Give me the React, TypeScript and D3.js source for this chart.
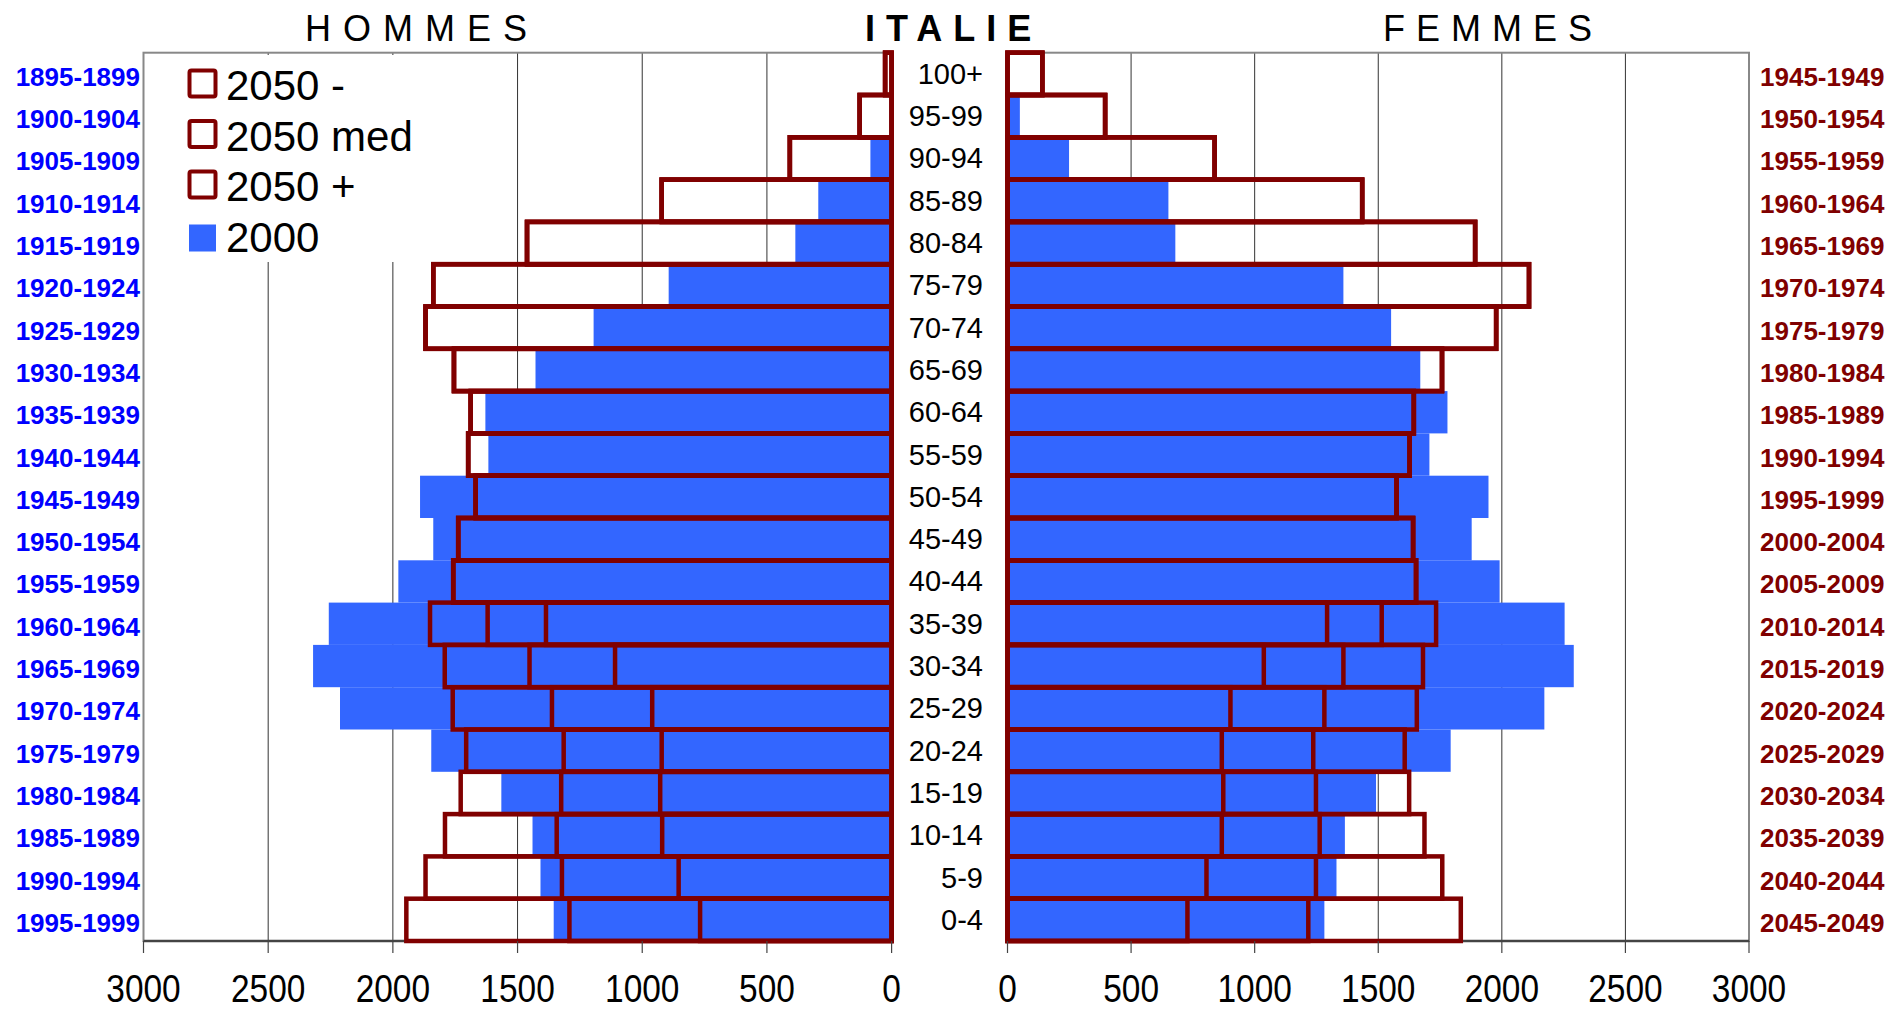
import React from "react";
import * as d3 from "d3";

const ages = ["100+","95-99","90-94","85-89","80-84","75-79","70-74","65-69","60-64","55-59","50-54","45-49","40-44","35-39","30-34","25-29","20-24","15-19","10-14","5-9","0-4"];
const birthMen = ["1895-1899","1900-1904","1905-1909","1910-1914","1915-1919","1920-1924","1925-1929","1930-1934","1935-1939","1940-1944","1945-1949","1950-1954","1955-1959","1960-1964","1965-1969","1970-1974","1975-1979","1980-1984","1985-1989","1990-1994","1995-1999"];
const birthWomen = ["1945-1949","1950-1954","1955-1959","1960-1964","1965-1969","1970-1974","1975-1979","1980-1984","1985-1989","1990-1994","1995-1999","2000-2004","2005-2009","2010-2014","2015-2019","2020-2024","2025-2029","2030-2034","2035-2039","2040-2044","2045-2049"];

const men2000 = [3, 8, 85, 294, 386, 894, 1195, 1428, 1629, 1617, 1891, 1838, 1978, 2257, 2320, 2212, 1846, 1565, 1440, 1408, 1355];
const men2050Low = [26, 128, 408, 922, 1462, 1838, 1869, 1755, 1688, 1698, 1668, 1738, 1758, 1386, 1109, 960, 922, 928, 920, 854, 768];
const men2050Med = [26, 128, 408, 922, 1462, 1838, 1869, 1755, 1688, 1698, 1668, 1738, 1758, 1620, 1452, 1362, 1315, 1325, 1343, 1322, 1292];
const men2050High = [26, 128, 408, 922, 1462, 1838, 1869, 1755, 1688, 1698, 1668, 1738, 1758, 1851, 1792, 1760, 1706, 1728, 1791, 1869, 1946];

const women2000 = [3, 50, 249, 651, 679, 1359, 1552, 1670, 1780, 1707, 1946, 1878, 1991, 2254, 2291, 2172, 1793, 1491, 1365, 1331, 1282];
const women2050Low = [141, 395, 838, 1435, 1892, 2110, 1977, 1758, 1644, 1627, 1574, 1641, 1653, 1293, 1037, 902, 867, 873, 867, 805, 728];
const women2050Med = [141, 395, 838, 1435, 1892, 2110, 1977, 1758, 1644, 1627, 1574, 1641, 1653, 1514, 1359, 1282, 1237, 1248, 1263, 1248, 1217];
const women2050High = [141, 395, 838, 1435, 1892, 2110, 1977, 1758, 1644, 1627, 1574, 1641, 1653, 1734, 1681, 1656, 1607, 1625, 1687, 1759, 1834];

const ticks = [0, 500, 1000, 1500, 2000, 2500, 3000];
const legendLabels = ["2050 -", "2050 med", "2050 +", "2000"];

const BLUE = "#3366FF";
const RED = "#800000";
const FONT = "'Liberation Sans', Arial, sans-serif";

export default function App() {
  const W = 1890, H = 1010;
  const top = 52.7, bottom = 941;
  const xL = d3.scaleLinear().domain([0, 3000]).range([891.6, 143.5]);
  const xR = d3.scaleLinear().domain([0, 3000]).range([1007.5, 1749]);
  const y = d3.scaleBand().domain(ages).range([top, bottom]).padding(0);
  const bw = y.bandwidth();

  const outlineSets = [men2050Low, men2050Med, men2050High];
  const outlineSetsW = [women2050Low, women2050Med, women2050High];

  return (
    <svg width={W} height={H} style={{ position: "absolute", left: 0, top: 0, background: "#fff" }}>
      <rect x={0} y={0} width={W} height={H} fill="#fff" />
      {/* gridlines */}
      {ticks.slice(1, 6).map((t) => (
        <line key={"gl" + t} x1={xL(t)} x2={xL(t)} y1={top} y2={bottom} stroke="#333" strokeWidth={1} />
      ))}
      {ticks.slice(1, 6).map((t) => (
        <line key={"gr" + t} x1={xR(t)} x2={xR(t)} y1={top} y2={bottom} stroke="#333" strokeWidth={1} />
      ))}
      {/* legend background */}
      <rect x={150} y={55} width={295} height={207} fill="#fff" />

      {/* blue 2000 bars */}
      {ages.map((a, i) => (
        <rect key={"mb" + a} x={xL(men2000[i])} y={y(a)} width={xL(0) - xL(men2000[i])} height={bw} fill={BLUE} />
      ))}
      {ages.map((a, i) => (
        <rect key={"wb" + a} x={xR(0)} y={y(a)} width={xR(women2000[i]) - xR(0)} height={bw} fill={BLUE} />
      ))}

      {/* plot borders */}
      <rect x={143.5} y={top} width={891.6 - 143.5} height={bottom - top} fill="none" stroke="#888" strokeWidth={2} />
      <rect x={1007.5} y={top} width={1749 - 1007.5} height={bottom - top} fill="none" stroke="#888" strokeWidth={2} />
      <line x1={143.5} x2={891.6} y1={bottom} y2={bottom} stroke="#444" strokeWidth={2.5} />
      <line x1={1007.5} x2={1749} y1={bottom} y2={bottom} stroke="#444" strokeWidth={2.5} />

      {/* 2050 outlines */}
      {outlineSets.map((arr, k) =>
        ages.map((a, i) => (
          <rect key={"mo" + k + a} x={xL(arr[i])} y={y(a)} width={xL(0) - xL(arr[i])} height={bw} fill="none" stroke={RED} strokeWidth={4.5} />
        ))
      )}
      {outlineSetsW.map((arr, k) =>
        ages.map((a, i) => (
          <rect key={"wo" + k + a} x={xR(0)} y={y(a)} width={xR(arr[i]) - xR(0)} height={bw} fill="none" stroke={RED} strokeWidth={4.5} />
        ))
      )}

      {/* axis ticks */}
      {ticks.map((t) => (
        <line key={"tl" + t} x1={xL(t)} x2={xL(t)} y1={bottom} y2={bottom + 12} stroke="#444" strokeWidth={1.2} />
      ))}
      {ticks.map((t) => (
        <line key={"tr" + t} x1={xR(t)} x2={xR(t)} y1={bottom} y2={bottom + 12} stroke="#444" strokeWidth={1.2} />
      ))}
      {ticks.map((t) => (
        <text key={"ll" + t} transform={`translate(${xL(t)},1002) scale(0.88,1)`} textAnchor="middle" fontFamily={FONT} fontSize={38} fill="#000">{t}</text>
      ))}
      {ticks.map((t) => (
        <text key={"lr" + t} transform={`translate(${xR(t)},1002) scale(0.88,1)`} textAnchor="middle" fontFamily={FONT} fontSize={38} fill="#000">{t}</text>
      ))}

      {/* age labels */}
      {ages.map((a) => (
        <text key={"al" + a} x={983} y={(y(a) as number) + bw / 2 + 10} textAnchor="end" fontFamily={FONT} fontSize={29} fill="#000">{a}</text>
      ))}
      {/* birth cohorts */}
      {ages.map((a, i) => (
        <text key={"bm" + a} x={140} y={(y(a) as number) + bw / 2 + 12} textAnchor="end" fontFamily={FONT} fontWeight="bold" fontSize={26} fill="#0000FF">{birthMen[i]}</text>
      ))}
      {ages.map((a, i) => (
        <text key={"bw" + a} x={1760} y={(y(a) as number) + bw / 2 + 12} textAnchor="start" fontFamily={FONT} fontWeight="bold" fontSize={26} fill={RED}>{birthWomen[i]}</text>
      ))}

      {/* titles */}
      <text x={305} y={41} fontFamily={FONT} fontSize={36} letterSpacing={12} fill="#000">HOMMES</text>
      <text x={865} y={41} fontFamily={FONT} fontSize={36} fontWeight="bold" letterSpacing={11} fill="#000">ITALIE</text>
      <text x={1383} y={41} fontFamily={FONT} fontSize={36} letterSpacing={11} fill="#000">FEMMES</text>

      {/* legend */}
      {legendLabels.map((l, i) => {
        const cy = 85 + i * 50.5;
        return (
          <g key={"lg" + l}>
            {i < 3 ? (
              <rect x={189.5} y={cy - 14.5} width={26} height={26} rx={2} fill="#fff" stroke={RED} strokeWidth={4} />
            ) : (
              <rect x={189} y={cy - 12} width={27} height={27} fill={BLUE} />
            )}
            <text x={226} y={cy + 15} fontFamily={FONT} fontSize={42} fill="#000">{l}</text>
          </g>
        );
      })}
    </svg>
  );
}
